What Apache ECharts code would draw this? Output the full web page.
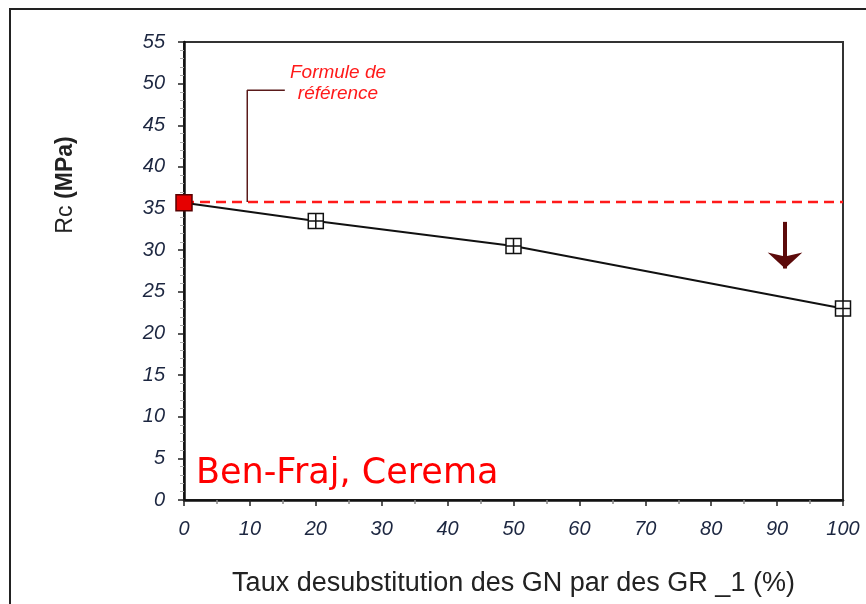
<!DOCTYPE html>
<html>
<head>
<meta charset="utf-8">
<script src="https://cdn.jsdelivr.net/npm/echarts@6/dist/echarts.min.js"></script>
<style>
  html, body { margin: 0; padding: 0; background: #fff; }
  #chart { width: 866px; height: 604px; }
</style>
</head>
<body>
<div id="chart"></div>
<script>
// taux de substitution (%) et résistance Rc (MPa)
const tauxSubst = [0, 20, 50, 100];
const rcValues = [35.7, 33.5, 30.5, 23.0];
// niveau de la formule de référence
const refLevel = 35.8;
// repère "Formule de référence" (coude) et flèche
const leaderPts = [[9.6, 35.8], [9.6, 49.2], [15.3, 49.2]];
const arrowPts = [[91.2, 33.4], [91.2, 27.8]];

const font = "Liberation Sans, Arial, sans-serif";
const labelColor = "#1c2640";

let chart = echarts.init(document.getElementById("chart"));

let crossSquare = "path://M0 0H10V10H0Z M5 0V10 M0 5H10";

let points = tauxSubst.map((x, i) => {
  if (i === 0) {
    return {
      value: [x, rcValues[i]],
      symbol: "rect",
      symbolSize: 16,
      itemStyle: { color: "#e60000", borderColor: "#5a0000", borderWidth: 1.5 }
    };
  }
  return { value: [x, rcValues[i]] };
});

let option = {
  animation: false,
  backgroundColor: "#fff",
  grid: {
    left: 184,
    right: 23,
    top: 42,
    bottom: 104,
    show: true,
    borderColor: "#333",
    borderWidth: 2
  },
  xAxis: {
    type: "value",
    min: 0,
    max: 100,
    interval: 10,
    name: "Taux desubstitution des GN par des GR _1 (%)",
    nameLocation: "middle",
    nameGap: 70,
    nameTextStyle: { fontFamily: font, fontSize: 27, color: "#222" },
    axisLine: { show: true, lineStyle: { color: "#111", width: 2.5 } },
    axisTick: { show: true, length: 6, lineStyle: { color: "#222", width: 1.5 } },
    minorTick: { show: true, splitNumber: 2, length: 4, lineStyle: { color: "#888", width: 1.5 } },
    splitLine: { show: false },
    axisLabel: {
      margin: 19,
      fontFamily: font,
      fontSize: 20,
      fontStyle: "italic",
      color: labelColor
    }
  },
  yAxis: {
    type: "value",
    min: 0,
    max: 55,
    interval: 5,
    axisLine: { show: true, lineStyle: { color: "#111", width: 2.5 } },
    axisTick: { show: true, length: 6, lineStyle: { color: "#222", width: 1.5 } },
    minorTick: { show: true, splitNumber: 5, length: 4, lineStyle: { color: "#aaa", width: 1 } },
    splitLine: { show: false },
    axisLabel: {
      margin: 19,
      fontFamily: font,
      fontSize: 20,
      fontStyle: "italic",
      color: labelColor
    }
  },
  series: [
    {
      name: "Formule de référence",
      type: "line",
      data: [[0, refLevel], [100, refLevel]],
      showSymbol: false,
      z: 2,
      lineStyle: { color: "#ff1a1a", width: 2.5, type: [10, 6] }
    },
    {
      name: "repere",
      type: "line",
      data: leaderPts,
      showSymbol: false,
      z: 1,
      lineStyle: { color: "#5a1a1a", width: 1.5 }
    },
    {
      name: "fleche",
      type: "line",
      data: [],
      markLine: {
        silent: true,
        symbol: ["none", "arrow"],
        symbolSize: [26, 16],
        label: { show: false },
        lineStyle: { color: "#5c0a0a", width: 4, type: "solid" },
        data: [[
          { coord: arrowPts[0] },
          { coord: arrowPts[1] }
        ]]
      }
    },
    {
      name: "Rc",
      type: "line",
      data: points,
      z: 5,
      symbol: crossSquare,
      symbolSize: 15,
      showAllSymbol: true,
      lineStyle: { color: "#111", width: 2 },
      itemStyle: { color: "#fff", borderColor: "#111", borderWidth: 1.5 }
    }
  ],
  graphic: [
    {
      type: "rect",
      shape: { x: 10, y: 9, width: 880, height: 640 },
      style: { fill: "none", stroke: "#222", lineWidth: 2 },
      silent: true
    },
    {
      type: "text",
      x: 338,
      y: 83,
      style: {
        text: "Formule de\nréférence",
        align: "center",
        verticalAlign: "middle",
        fontFamily: font,
        fontSize: 19,
        fontStyle: "italic",
        lineHeight: 21,
        fill: "#ff1a1a"
      },
      silent: true
    },
    {
      type: "text",
      x: 196,
      y: 474,
      style: {
        text: "Ben-Fraj, Cerema",
        verticalAlign: "middle",
        fontFamily: "DejaVu Sans, Verdana, sans-serif",
        fontSize: 35,
        fill: "#ff0000"
      },
      silent: true
    },
    {
      type: "text",
      x: 66,
      y: 185,
      rotation: Math.PI / 2,
      style: {
        text: "{n|Rc}  {b|(MPa)}",
        align: "center",
        verticalAlign: "middle",
        rich: {
          n: { fontFamily: font, fontSize: 23, fill: "#222" },
          b: { fontFamily: font, fontSize: 23, fontWeight: "bold", fill: "#222" }
        }
      },
      silent: true
    }
  ]
};

chart.setOption(option);
</script>
</body>
</html>
